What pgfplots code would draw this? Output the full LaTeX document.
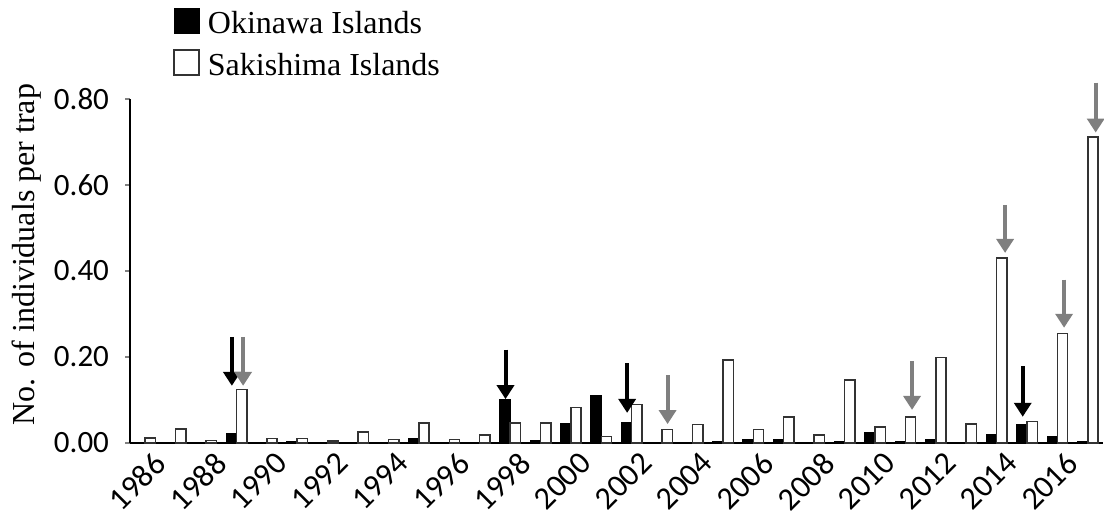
\documentclass[border=0pt]{standalone}
\usepackage{fontspec}
\setmainfont{Liberation Serif}
\newfontfamily\carlito{Carlito}
\usepackage{pgfplots}
\pgfplotsset{compat=1.18}
\usetikzlibrary{arrows.meta}
\definecolor{arrgray}{HTML}{7F7F7F}
\definecolor{edgegray}{HTML}{333333}
\tikzset{
  arrO/.style={draw=black, line width=2pt, -{Triangle[width=8.5pt,length=7pt]}},
  arrS/.style={draw=arrgray, line width=2pt, -{Triangle[width=8.5pt,length=7pt]}},
}
\begin{document}
\begin{tikzpicture}
\useasboundingbox (-65pt,-33.5pt) rectangle (487pt,221.5pt);
\begin{axis}[
  scale only axis, width=486.5pt, height=172pt,
  xmin=1985.5, xmax=2017.5, ymin=0, ymax=0.8,
  clip=false,
  axis lines*=left,
  axis line style={line width=0.75pt},
  ybar, bar width=0.34,
  xtick={1986,1988,...,2016},
  major x tick style={draw=none},
  ytick={0,0.2,0.4,0.6,0.8},
  tick align=outside,
  major tick length=2.5pt,
  major y tick style={line width=0.75pt},
  /pgf/number format/assume math mode=true,
  x tick label style={font=\carlito\fontsize{16}{19}\selectfont, xshift=3.6pt, yshift=3.6pt, rotate=45, anchor=north east, /pgf/number format/1000 sep={}},
  y tick label style={font=\carlito\fontsize{15.5}{18}\selectfont, xshift=-4.5pt, /pgf/number format/.cd, fixed, fixed zerofill, precision=2},
  ylabel={No. of individuals per trap},
  ylabel style={font=\fontsize{16}{19}\selectfont, at={(axis description cs:-0.106,0.548)}, anchor=center},
  legend image code/.code={\draw[#1] (0pt,0pt) rectangle (12.5pt,12.5pt);},
  legend cell align=left,
  legend style={draw=none, fill=none, at={(axis description cs:0.0442,1.2645)}, anchor=north west,
    inner sep=0pt, font=\fontsize{16}{19}\selectfont, row sep=7.5pt,
    nodes={inner sep=0pt, text depth=0pt},
    cells={anchor=base west},
    /tikz/every odd column/.append style={column sep=4pt}},
]
\addplot[fill=black, draw=black, line width=0.5pt, bar shift=-0.17] coordinates {
 (1989,0.022) (1991,0.003) (1995,0.011) (1998,0.101) (1999,0.005)
 (2000,0.046) (2001,0.111) (2002,0.047) (2005,0.003) (2006,0.008) (2007,0.008)
 (2009,0.003) (2010,0.024) (2011,0.003) (2012,0.008) (2014,0.019) (2015,0.043)
 (2016,0.015) (2017,0.003)
};
\addplot[fill=white, draw=edgegray, line width=0.75pt, bar shift=0.17] coordinates {
 (1986,0.012) (1987,0.033) (1988,0.006) (1989,0.124) (1990,0.011) (1991,0.011)
 (1992,0.005) (1993,0.026) (1994,0.008) (1995,0.047) (1996,0.008) (1997,0.019)
 (1998,0.047) (1999,0.047) (2000,0.082) (2001,0.015) (2002,0.089) (2003,0.031)
 (2004,0.043) (2005,0.193) (2006,0.031) (2007,0.061) (2008,0.019) (2009,0.147)
 (2010,0.037) (2011,0.061) (2012,0.199) (2013,0.044) (2014,0.430) (2015,0.050)
 (2016,0.255) (2017,0.712)
};
\legend{Okinawa Islands, Sakishima Islands}
% arrows
\draw[arrO] (axis cs:1988.85,0.247) -- (axis cs:1988.85,0.133);
\draw[arrS] (axis cs:1989.22,0.247) -- (axis cs:1989.22,0.133);
\draw[arrO] (axis cs:1997.85,0.217) -- (axis cs:1997.85,0.102);
\draw[arrO] (axis cs:2001.85,0.186) -- (axis cs:2001.85,0.070);
\draw[arrS] (axis cs:2003.18,0.158) -- (axis cs:2003.18,0.044);
\draw[arrS] (axis cs:2011.22,0.190) -- (axis cs:2011.22,0.077);
\draw[arrS] (axis cs:2014.28,0.554) -- (axis cs:2014.28,0.442);
\draw[arrO] (axis cs:2014.86,0.178) -- (axis cs:2014.86,0.061);
\draw[arrS] (axis cs:2016.22,0.380) -- (axis cs:2016.22,0.268);
\draw[arrS] (axis cs:2017.26,0.838) -- (axis cs:2017.26,0.722);
\end{axis}
\end{tikzpicture}
\end{document}
